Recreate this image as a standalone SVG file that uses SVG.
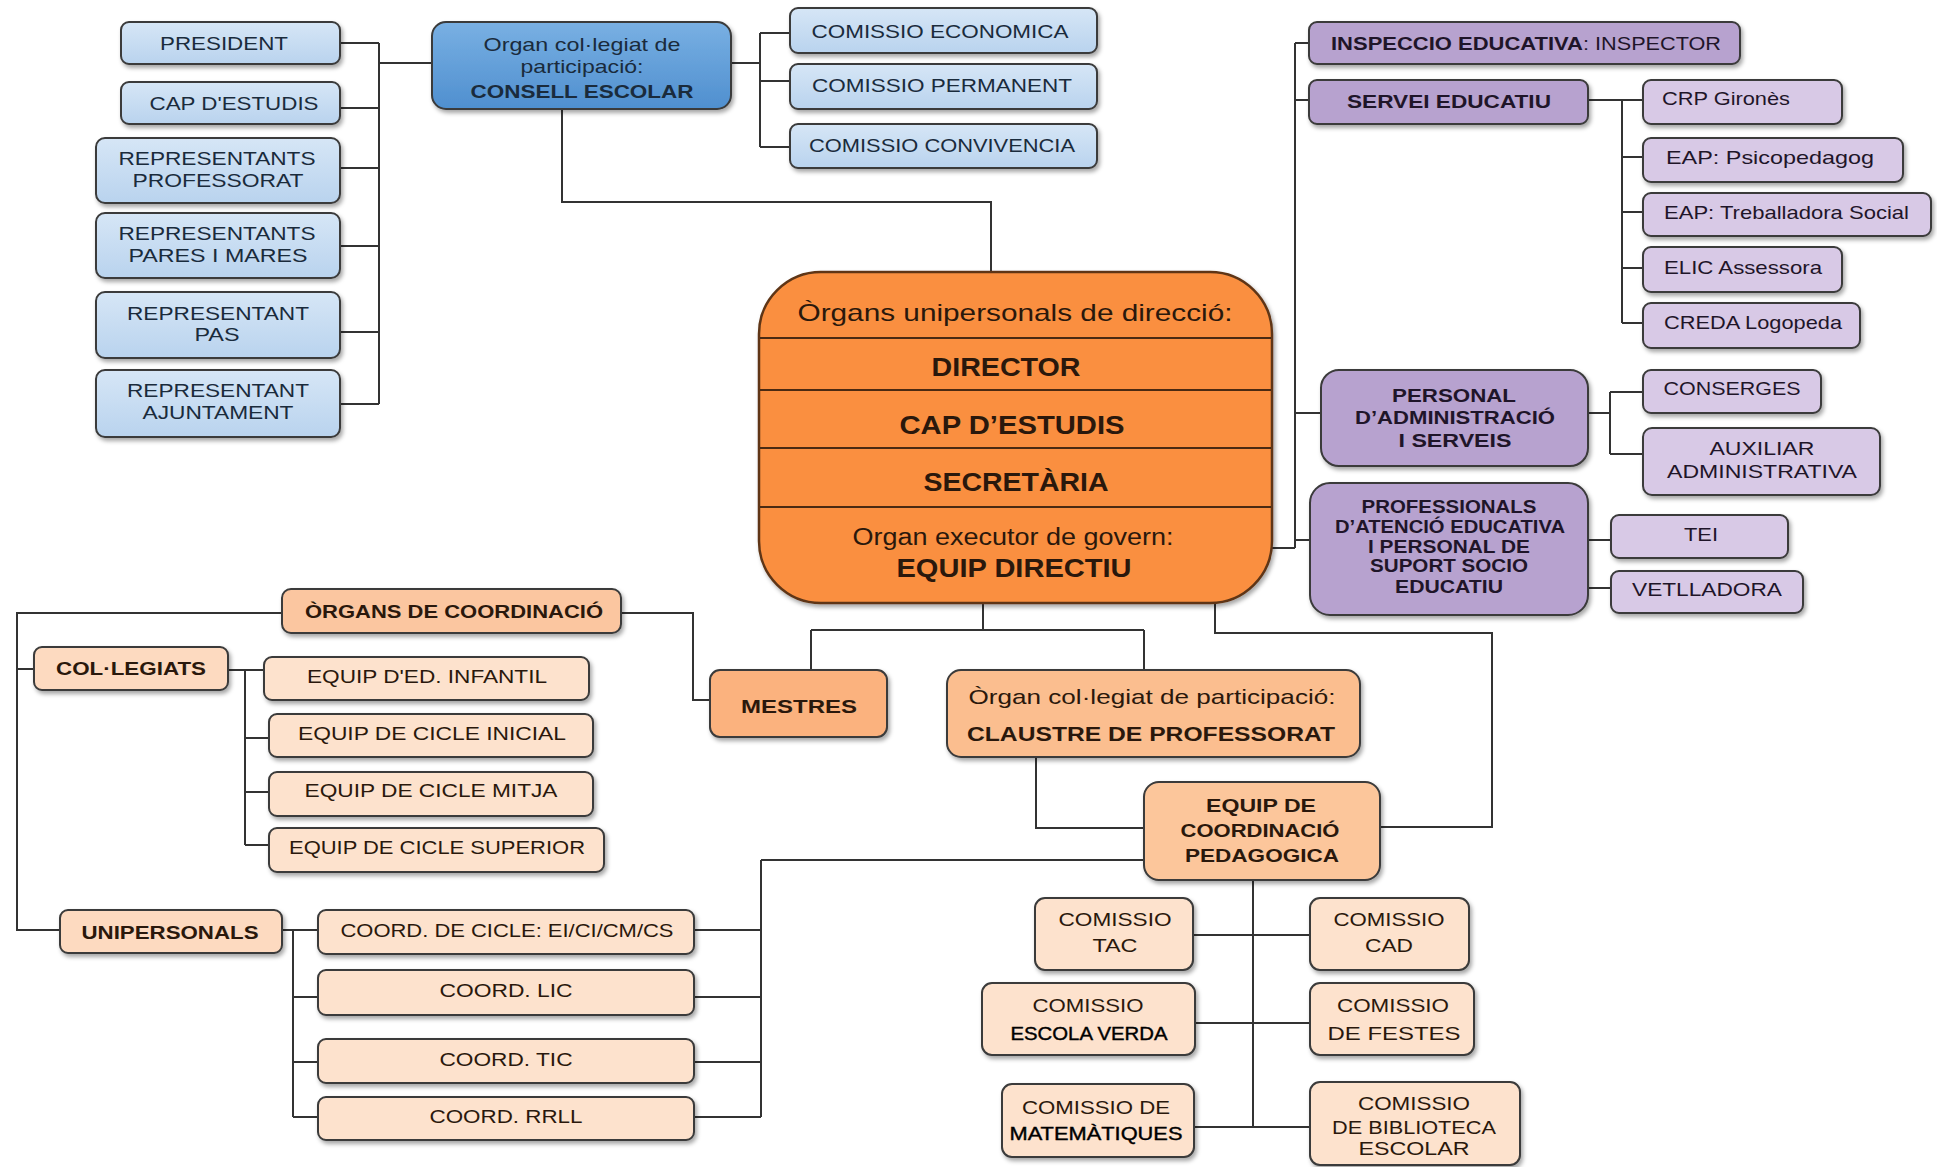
<svg xmlns="http://www.w3.org/2000/svg" width="1937" height="1167" viewBox="0 0 1937 1167">
<style>
.t{font-family:"Liberation Sans",Arial,sans-serif;font-size:19px;text-anchor:middle;fill:#1f1f1f}
.s{text-anchor:start}
.b{font-weight:bold}
.bl{fill:#1a2b3c}
.pu{fill:#1f1529}
.or{fill:#2a180c}
.dk{fill:#000;stroke:#000;stroke-width:0.4}
.box{stroke:#3a3a3a;stroke-width:2;filter:url(#sh)}
.lb{fill:url(#gBlue)}
.db{fill:url(#gDBlue)}
.lp{fill:#d8c9e6}
.dp{fill:#b7a2cf}
.pe{fill:#fde2cd}
.pe2{fill:#fddac0}
.mo{fill:#fbc6a0}
.conn path{fill:none;stroke:#333;stroke-width:2}
</style>
<defs>
<filter id="sh" x="-10%" y="-10%" width="125%" height="135%">
<feDropShadow dx="2" dy="3" stdDeviation="2" flood-color="#000" flood-opacity="0.35"/>
</filter>
<linearGradient id="gBlue" x1="0" y1="0" x2="0" y2="1"><stop offset="0" stop-color="#d6e6f6"/><stop offset="1" stop-color="#b9d3ee"/></linearGradient>
<linearGradient id="gDBlue" x1="0" y1="0" x2="0" y2="1"><stop offset="0" stop-color="#79b0e3"/><stop offset="1" stop-color="#4f8fcf"/></linearGradient>
</defs>
<rect width="1937" height="1167" fill="#ffffff"/>

<g id="connectors" class="conn">
<path d="M340 43H379M340 108H379M340 168H379M340 246H379M340 332H379M340 404H379M379 43V404M379 63H432"/>
<path d="M562 109V202H991V272"/>
<path d="M731 63H760M760 33V147M760 33H790M760 81H790M760 147H790"/>
<path d="M1270 548H1295M1295 43V548M1295 43H1309M1295 100H1309M1295 413H1321M1295 540H1310"/>
<path d="M1588 100H1622M1622 100V323M1622 100H1643M1622 157H1643M1622 212H1643M1622 268H1643M1622 323H1643"/>
<path d="M1588 413H1610M1610 392V454M1610 392H1643M1610 454H1643"/>
<path d="M1588 540H1611M1588 588H1611"/>
<path d="M983 603V630M811 630H1144M811 630V670M1144 630V670"/>
<path d="M1215 603V633H1492V827H1380"/>
<path d="M621 613H693V700H710"/>
<path d="M282 613H17V930H60M17 669H34"/>
<path d="M228 670H264M245 670V845M245 738H269M245 792H269M245 845H269"/>
<path d="M282 930H318M293 930V1117M293 997H318M293 1062H318M293 1117H318"/>
<path d="M694 930H761M694 997H761M694 1062H761M694 1117H761M761 860V1117M761 860H1144"/>
<path d="M1036 757V828H1144"/>
<path d="M1253 880V1127M1193 935H1310M1195 1023H1310M1194 1127H1310"/>
</g>

<g id="president"><rect class="box lb" x="121" y="22" width="219" height="42" rx="8"/><text class="t bl" x="224" y="50" textLength="128" lengthAdjust="spacingAndGlyphs">PRESIDENT</text></g>
<g id="cap-estudis-ce"><rect class="box lb" x="121" y="82" width="219" height="42" rx="8"/><text class="t bl" x="234" y="110" textLength="169" lengthAdjust="spacingAndGlyphs">CAP D'ESTUDIS</text></g>
<g id="repr-professorat"><rect class="box lb" x="96" y="138" width="244" height="65" rx="9"/><text class="t bl" x="217" y="165" textLength="197" lengthAdjust="spacingAndGlyphs">REPRESENTANTS</text><text class="t bl" x="218" y="187" textLength="171" lengthAdjust="spacingAndGlyphs">PROFESSORAT</text></g>
<g id="repr-pares"><rect class="box lb" x="96" y="213" width="244" height="65" rx="9"/><text class="t bl" x="217" y="240" textLength="197" lengthAdjust="spacingAndGlyphs">REPRESENTANTS</text><text class="t bl" x="218" y="262" textLength="179" lengthAdjust="spacingAndGlyphs">PARES I MARES</text></g>
<g id="repr-pas"><rect class="box lb" x="96" y="292" width="244" height="66" rx="9"/><text class="t bl" x="218" y="320" textLength="182" lengthAdjust="spacingAndGlyphs">REPRESENTANT</text><text class="t bl" x="217" y="341" textLength="45" lengthAdjust="spacingAndGlyphs">PAS</text></g>
<g id="repr-ajuntament"><rect class="box lb" x="96" y="370" width="244" height="67" rx="9"/><text class="t bl" x="218" y="397" textLength="182" lengthAdjust="spacingAndGlyphs">REPRESENTANT</text><text class="t bl" x="218" y="419" textLength="151" lengthAdjust="spacingAndGlyphs">AJUNTAMENT</text></g>

<g id="consell-escolar"><rect class="box db" x="432" y="22" width="299" height="87" rx="14"/><text class="t bl" x="582" y="51" textLength="197" lengthAdjust="spacingAndGlyphs">Organ col·legiat de</text><text class="t bl" x="582" y="73" textLength="123" lengthAdjust="spacingAndGlyphs">participació:</text><text class="t b bl" x="582" y="98" textLength="223" lengthAdjust="spacingAndGlyphs">CONSELL ESCOLAR</text></g>

<g id="com-economica"><rect class="box lb" x="790" y="8" width="307" height="45" rx="8"/><text class="t bl" x="940" y="38" textLength="257" lengthAdjust="spacingAndGlyphs">COMISSIO ECONOMICA</text></g>
<g id="com-permanent"><rect class="box lb" x="790" y="64" width="307" height="45" rx="8"/><text class="t bl" x="942" y="92" textLength="260" lengthAdjust="spacingAndGlyphs">COMISSIO PERMANENT</text></g>
<g id="com-convivencia"><rect class="box lb" x="790" y="124" width="307" height="44" rx="8"/><text class="t bl" x="942" y="152" textLength="266" lengthAdjust="spacingAndGlyphs">COMISSIO CONVIVENCIA</text></g>

<g id="equip-directiu">
<rect x="759" y="272" width="513" height="331" rx="62" fill="#fa8f3f" stroke="#5e3618" stroke-width="2.5" filter="url(#sh)"/>
<path d="M760 338H1271M760 390H1271M760 448H1271M760 507H1271" stroke="#4a2a12" stroke-width="2" fill="none"/>
<text class="t or" style="font-size:24px" x="1015" y="321" textLength="435" lengthAdjust="spacingAndGlyphs">Òrgans unipersonals de direcció:</text>
<text class="t b or" style="font-size:26px" x="1006" y="376" textLength="149" lengthAdjust="spacingAndGlyphs">DIRECTOR</text>
<text class="t b or" style="font-size:26px" x="1012" y="434" textLength="225" lengthAdjust="spacingAndGlyphs">CAP D’ESTUDIS</text>
<text class="t b or" style="font-size:26px" x="1016" y="491" textLength="185" lengthAdjust="spacingAndGlyphs">SECRETÀRIA</text>
<text class="t or" style="font-size:23px" x="1013" y="545" textLength="321" lengthAdjust="spacingAndGlyphs">Organ executor de govern:</text>
<text class="t b or" style="font-size:26px" x="1014" y="577" textLength="235" lengthAdjust="spacingAndGlyphs">EQUIP DIRECTIU</text>
</g>

<g id="inspeccio"><rect class="box dp" x="1309" y="22" width="431" height="42" rx="8"/><text class="t s b pu" x="1331" y="50" textLength="252" lengthAdjust="spacingAndGlyphs">INSPECCIO EDUCATIVA</text><text class="t s pu" x="1583" y="50" textLength="138" lengthAdjust="spacingAndGlyphs">: INSPECTOR</text></g>
<g id="servei-educatiu"><rect class="box dp" x="1309" y="80" width="279" height="44" rx="8"/><text class="t b pu" x="1449" y="108" textLength="204" lengthAdjust="spacingAndGlyphs">SERVEI EDUCATIU</text></g>
<g id="crp"><rect class="box lp" x="1643" y="80" width="199" height="44" rx="8"/><text class="t s pu" x="1662" y="105" textLength="128" lengthAdjust="spacingAndGlyphs">CRP Gironès</text></g>
<g id="eap-psico"><rect class="box lp" x="1643" y="138" width="260" height="44" rx="8"/><text class="t s pu" x="1666" y="164" textLength="208" lengthAdjust="spacingAndGlyphs">EAP: Psicopedagog</text></g>
<g id="eap-treb"><rect class="box lp" x="1643" y="193" width="288" height="43" rx="8"/><text class="t s pu" x="1664" y="219" textLength="245" lengthAdjust="spacingAndGlyphs">EAP: Treballadora Social</text></g>
<g id="elic"><rect class="box lp" x="1643" y="247" width="199" height="45" rx="8"/><text class="t s pu" x="1664" y="274" textLength="158" lengthAdjust="spacingAndGlyphs">ELIC Assessora</text></g>
<g id="creda"><rect class="box lp" x="1643" y="303" width="217" height="45" rx="8"/><text class="t s pu" x="1664" y="329" textLength="178" lengthAdjust="spacingAndGlyphs">CREDA Logopeda</text></g>

<g id="personal-admin"><rect class="box dp" x="1321" y="370" width="267" height="96" rx="18"/><text class="t b pu" x="1454" y="402" textLength="124" lengthAdjust="spacingAndGlyphs">PERSONAL</text><text class="t b pu" x="1455" y="424" textLength="200" lengthAdjust="spacingAndGlyphs">D’ADMINISTRACIÓ</text><text class="t b pu" x="1455" y="447" textLength="113" lengthAdjust="spacingAndGlyphs">I SERVEIS</text></g>
<g id="conserges"><rect class="box lp" x="1643" y="370" width="178" height="43" rx="8"/><text class="t pu" x="1732" y="395" textLength="137" lengthAdjust="spacingAndGlyphs">CONSERGES</text></g>
<g id="auxiliar"><rect class="box lp" x="1643" y="428" width="237" height="67" rx="9"/><text class="t pu" x="1762" y="455" textLength="105" lengthAdjust="spacingAndGlyphs">AUXILIAR</text><text class="t pu" x="1762" y="478" textLength="190" lengthAdjust="spacingAndGlyphs">ADMINISTRATIVA</text></g>

<g id="professionals"><rect class="box dp" x="1310" y="483" width="278" height="132" rx="20"/>
<text class="t b pu" style="font-size:18px" x="1449" y="513" textLength="175" lengthAdjust="spacingAndGlyphs">PROFESSIONALS</text>
<text class="t b pu" style="font-size:18px" x="1450" y="533" textLength="230" lengthAdjust="spacingAndGlyphs">D’ATENCIÓ EDUCATIVA</text>
<text class="t b pu" style="font-size:18px" x="1449" y="553" textLength="162" lengthAdjust="spacingAndGlyphs">I PERSONAL DE</text>
<text class="t b pu" style="font-size:18px" x="1449" y="572" textLength="158" lengthAdjust="spacingAndGlyphs">SUPORT  SOCIO</text>
<text class="t b pu" style="font-size:18px" x="1449" y="593" textLength="108" lengthAdjust="spacingAndGlyphs">EDUCATIU</text></g>
<g id="tei"><rect class="box lp" x="1611" y="515" width="177" height="43" rx="8"/><text class="t pu" x="1701" y="541" textLength="34" lengthAdjust="spacingAndGlyphs">TEI</text></g>
<g id="vetlladora"><rect class="box lp" x="1611" y="571" width="192" height="42" rx="8"/><text class="t pu" x="1707" y="596" textLength="150" lengthAdjust="spacingAndGlyphs">VETLLADORA</text></g>

<g id="organs-coordinacio"><rect class="box mo" x="282" y="589" width="339" height="44" rx="9"/><text class="t b or" x="454" y="618" textLength="298" lengthAdjust="spacingAndGlyphs">ÒRGANS DE COORDINACIÓ</text></g>
<g id="collegiats"><rect class="box pe2" x="34" y="647" width="194" height="43" rx="8"/><text class="t b or" x="131" y="675" textLength="150" lengthAdjust="spacingAndGlyphs">COL·LEGIATS</text></g>
<g id="equip-infantil"><rect class="box pe" x="264" y="657" width="325" height="43" rx="8"/><text class="t or" x="427" y="683" textLength="240" lengthAdjust="spacingAndGlyphs">EQUIP D'ED. INFANTIL</text></g>
<g id="equip-inicial"><rect class="box pe" x="269" y="714" width="324" height="43" rx="8"/><text class="t or" x="432" y="740" textLength="268" lengthAdjust="spacingAndGlyphs">EQUIP DE CICLE INICIAL</text></g>
<g id="equip-mitja"><rect class="box pe" x="269" y="772" width="324" height="44" rx="8"/><text class="t or" x="431" y="797" textLength="253" lengthAdjust="spacingAndGlyphs">EQUIP DE CICLE MITJA</text></g>
<g id="equip-superior"><rect class="box pe" x="269" y="828" width="335" height="44" rx="8"/><text class="t or" x="437" y="854" textLength="296" lengthAdjust="spacingAndGlyphs">EQUIP DE CICLE SUPERIOR</text></g>

<g id="unipersonals"><rect class="box pe2" x="60" y="910" width="222" height="43" rx="8"/><text class="t b or" x="170" y="939" textLength="177" lengthAdjust="spacingAndGlyphs">UNIPERSONALS</text></g>
<g id="coord-cicle"><rect class="box pe" x="318" y="910" width="376" height="44" rx="8"/><text class="t or" x="507" y="937" textLength="333" lengthAdjust="spacingAndGlyphs">COORD. DE CICLE: EI/CI/CM/CS</text></g>
<g id="coord-lic"><rect class="box pe" x="318" y="970" width="376" height="45" rx="8"/><text class="t or" x="506" y="997" textLength="133" lengthAdjust="spacingAndGlyphs">COORD. LIC</text></g>
<g id="coord-tic"><rect class="box pe" x="318" y="1039" width="376" height="44" rx="8"/><text class="t or" x="506" y="1066" textLength="133" lengthAdjust="spacingAndGlyphs">COORD. TIC</text></g>
<g id="coord-rrll"><rect class="box pe" x="318" y="1097" width="376" height="43" rx="8"/><text class="t or" x="506" y="1123" textLength="153" lengthAdjust="spacingAndGlyphs">COORD. RRLL</text></g>

<g id="mestres"><rect class="box" fill="#fbb27e" x="710" y="670" width="177" height="67" rx="10"/><text class="t b or" x="799" y="713" textLength="116" lengthAdjust="spacingAndGlyphs">MESTRES</text></g>
<g id="claustre"><rect class="box" fill="#fbbe8f" x="947" y="670" width="413" height="87" rx="14"/><text class="t or" style="font-size:21px" x="1152" y="704" textLength="367" lengthAdjust="spacingAndGlyphs">Òrgan col·legiat de participació:</text><text class="t b or" style="font-size:21px" x="1151" y="741" textLength="368" lengthAdjust="spacingAndGlyphs">CLAUSTRE DE PROFESSORAT</text></g>
<g id="equip-coordinacio"><rect class="box" fill="#fcc69b" x="1144" y="782" width="236" height="98" rx="15"/><text class="t b or" x="1261" y="812" textLength="110" lengthAdjust="spacingAndGlyphs">EQUIP DE</text><text class="t b or" x="1260" y="837" textLength="159" lengthAdjust="spacingAndGlyphs">COORDINACIÓ</text><text class="t b or" x="1262" y="862" textLength="154" lengthAdjust="spacingAndGlyphs">PEDAGOGICA</text></g>

<g id="com-tac"><rect class="box pe" x="1035" y="898" width="158" height="72" rx="10"/><text class="t or" x="1115" y="926" textLength="113" lengthAdjust="spacingAndGlyphs">COMISSIO</text><text class="t or" x="1115" y="952" textLength="45" lengthAdjust="spacingAndGlyphs">TAC</text></g>
<g id="com-cad"><rect class="box pe" x="1310" y="898" width="159" height="72" rx="10"/><text class="t or" x="1389" y="926" textLength="111" lengthAdjust="spacingAndGlyphs">COMISSIO</text><text class="t or" x="1389" y="952" textLength="48" lengthAdjust="spacingAndGlyphs">CAD</text></g>
<g id="com-escola-verda"><rect class="box pe" x="982" y="983" width="213" height="72" rx="10"/><text class="t or" x="1088" y="1012" textLength="111" lengthAdjust="spacingAndGlyphs">COMISSIO</text><text class="t dk" x="1089" y="1040" textLength="157" lengthAdjust="spacingAndGlyphs">ESCOLA VERDA</text></g>
<g id="com-festes"><rect class="box pe" x="1310" y="983" width="164" height="72" rx="10"/><text class="t or" x="1393" y="1012" textLength="112" lengthAdjust="spacingAndGlyphs">COMISSIO</text><text class="t or" x="1394" y="1040" textLength="133" lengthAdjust="spacingAndGlyphs">DE FESTES</text></g>
<g id="com-matematiques"><rect class="box pe" x="1002" y="1084" width="192" height="73" rx="10"/><text class="t or" x="1096" y="1114" textLength="148" lengthAdjust="spacingAndGlyphs">COMISSIO DE</text><text class="t dk" x="1096" y="1140" textLength="173" lengthAdjust="spacingAndGlyphs">MATEMÀTIQUES</text></g>
<g id="com-biblioteca"><rect class="box pe" x="1310" y="1082" width="210" height="83" rx="10"/><text class="t or" x="1414" y="1110" textLength="112" lengthAdjust="spacingAndGlyphs">COMISSIO</text><text class="t or" x="1414" y="1134" textLength="164" lengthAdjust="spacingAndGlyphs">DE BIBLIOTECA</text><text class="t or" x="1414" y="1155" textLength="111" lengthAdjust="spacingAndGlyphs">ESCOLAR</text></g>
</svg>
